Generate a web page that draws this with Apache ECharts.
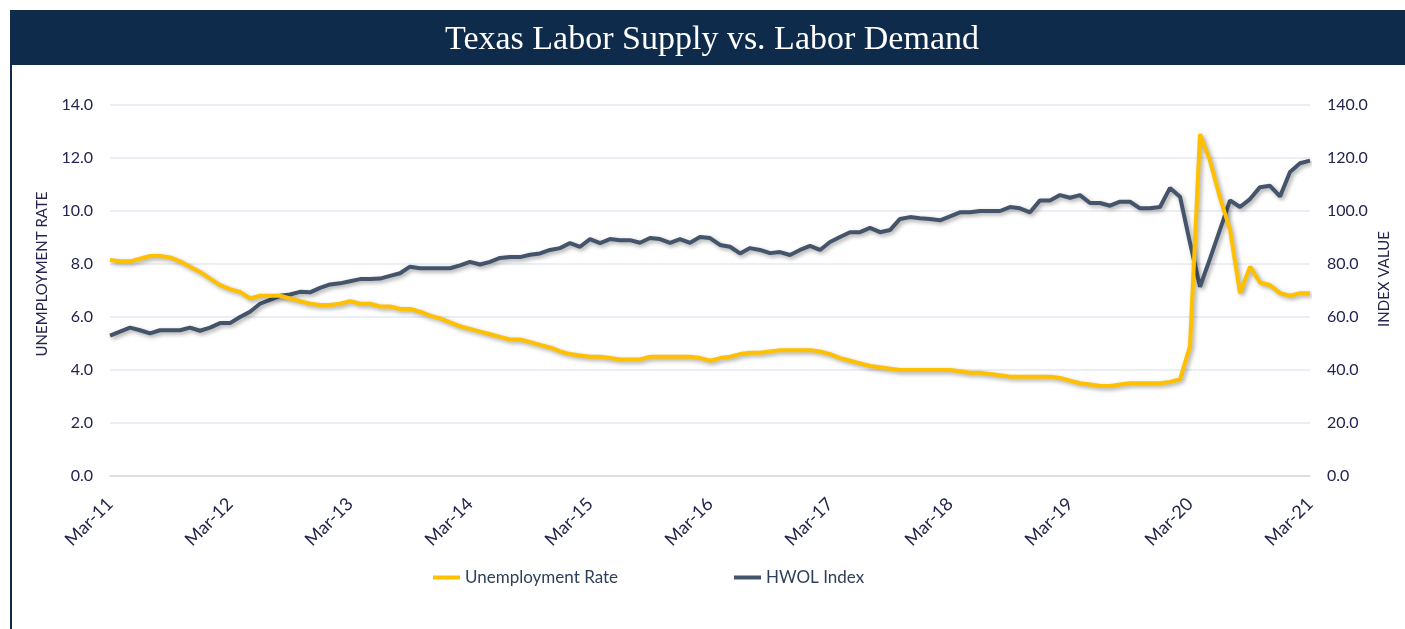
<!DOCTYPE html>
<html>
<head>
<meta charset="utf-8">
<title>Texas Labor Supply vs. Labor Demand</title>
<script src="https://cdn.jsdelivr.net/npm/echarts@6/dist/echarts.min.js"></script>
<style>
  html, body { margin: 0; padding: 0; background: #fff; }
  #main { width: 1405px; height: 629px; }
</style>
</head>
<body>
<div id="main"></div>
<script>
'use strict';

/* ===== data ===== */
var monthNames = ['Jan', 'Feb', 'Mar', 'Apr', 'May', 'Jun', 'Jul', 'Aug', 'Sep', 'Oct', 'Nov', 'Dec'];
var years = ['11', '12', '13', '14', '15', '16', '17', '18', '19', '20', '21'];

// Mar-11 .. Mar-21, monthly
var months = [];
for (var y = 0; y < years.length; y++) {
  for (var m = 0; m < 12; m++) {
    if (y === 0 && m < 2) continue;
    if (y === years.length - 1 && m > 2) continue;
    months.push(monthNames[m] + '-' + years[y]);
  }
}

var unemploymentRate = [
  8.15, 8.1, 8.1, 8.2, 8.3, 8.3, 8.25, 8.1, 7.9, 7.7,
  7.45, 7.2, 7.05, 6.95, 6.7, 6.8, 6.8, 6.8, 6.7, 6.6, 6.5, 6.45,
  6.45, 6.5, 6.6, 6.5, 6.5, 6.4, 6.4, 6.3, 6.3, 6.2, 6.05, 5.95,
  5.8, 5.65, 5.55, 5.45, 5.35, 5.25, 5.15, 5.15, 5.05, 4.95, 4.85, 4.7,
  4.6, 4.55, 4.5, 4.5, 4.45, 4.4, 4.4, 4.4, 4.5, 4.5, 4.5, 4.5,
  4.5, 4.45, 4.35, 4.45, 4.5, 4.6, 4.65, 4.65, 4.7, 4.75, 4.75, 4.75,
  4.75, 4.7, 4.6, 4.45, 4.35, 4.25, 4.15, 4.1, 4.05, 4.0, 4.0, 4.0,
  4.0, 4.0, 4.0, 3.95, 3.9, 3.9, 3.85, 3.8, 3.75, 3.75, 3.75, 3.75,
  3.75, 3.7, 3.6, 3.5, 3.45, 3.4, 3.4, 3.45, 3.5, 3.5, 3.5, 3.5,
  3.55, 3.65, 4.9, 12.9, 11.9, 10.5, 9.3, 6.9, 7.9, 7.3, 7.2, 6.9,
  6.8, 6.9, 6.9
];

var hwolIndex = [
  53, 54.5, 56, 55, 53.8, 55, 55, 55, 56, 54.8,
  56, 57.7, 57.7, 60, 62, 65, 66.5, 68, 68.5, 69.5, 69.3, 71,
  72.3, 72.7, 73.5, 74.3, 74.3, 74.5, 75.5, 76.5, 79, 78.4, 78.4, 78.4,
  78.4, 79.5, 80.8, 79.8, 80.8, 82.3, 82.6, 82.6, 83.5, 84, 85.3, 86,
  87.9, 86.5, 89.4, 87.9, 89.4, 89, 89, 88, 89.8, 89.4, 88, 89.4,
  88, 90.2, 89.8, 87.2, 86.5, 84, 86, 85.3, 84.1, 84.5, 83.4, 85.3,
  86.8, 85.3, 88.3, 90.2, 92, 92, 93.6, 92, 92.8, 97, 97.7, 97.3,
  97, 96.5, 98, 99.5, 99.5, 100, 100, 100, 101.5, 101, 99.5, 104,
  104, 106, 105, 106, 103, 103, 102, 103.5, 103.5, 101, 101, 101.5,
  108.7, 105.4, 88, 71.4, 82, 93, 104, 101.5, 104.5, 109, 109.5, 105.5,
  114.7, 118, 119
];

var seriesNames = ['Unemployment Rate', 'HWOL Index'];
var axisNames = ['UNEMPLOYMENT RATE', 'INDEX VALUE'];
var leftTicks = { min: 0, max: 14, interval: 2 };
var rightTicks = { min: 0, max: 140, interval: 20 };

/* ===== chart ===== */
var labelColor = '#23244f';
var uiFont = 'Lato, "Open Sans", sans-serif';
var myChart = echarts.init(document.getElementById('main'));

var lineShadow = {
  shadowColor: 'rgba(0,0,0,0.35)',
  shadowBlur: 4,
  shadowOffsetX: 2,
  shadowOffsetY: 2
};

// axis titles sit a little above the plot's middle, so they are drawn by hand
function axisTitle(text, x, y) {
  return {
    type: 'text',
    x: x,
    y: y,
    rotation: Math.PI / 2,
    style: {
      text: text,
      fill: labelColor,
      font: '15px ' + uiFont,
      textAlign: 'center',
      textVerticalAlign: 'middle'
    }
  };
}

var option = {
  backgroundColor: '#ffffff',
  animation: false,
  graphic: [
    {
      type: 'rect',
      shape: { x: 10, y: 10, width: 1395, height: 55 },
      style: { fill: '#0f2b4b' }
    },
    {
      type: 'rect',
      shape: { x: 10, y: 65, width: 2, height: 564 },
      style: { fill: '#0f2b4b' }
    },
    {
      type: 'text',
      x: 712,
      y: 40,
      style: {
        text: 'Texas Labor Supply vs. Labor Demand',
        fill: '#ffffff',
        font: '34px "Liberation Serif", "DejaVu Serif", serif',
        textAlign: 'center',
        textVerticalAlign: 'middle'
      }
    },
    axisTitle(axisNames[0], 42, 274),
    axisTitle(axisNames[1], 1384, 279)
  ],
  grid: {
    left: 110,
    right: 95,
    top: 105,
    bottom: 153,
    containLabel: false
  },
  legend: {
    bottom: 38,
    left: 428,
    itemWidth: 27,
    itemHeight: 4,
    itemGap: 116,
    icon: 'rect',
    textStyle: {
      color: '#2e3f5c',
      fontSize: 17,
      fontFamily: uiFont
    },
    data: seriesNames
  },
  xAxis: {
    type: 'category',
    data: months,
    boundaryGap: false,
    axisLine: { show: true, lineStyle: { color: '#d9d9d9', width: 1.5 } },
    axisTick: { show: false },
    splitLine: { show: false },
    axisLabel: {
      interval: function (i) { return i % 12 === 0; },
      rotate: 45,
      margin: 25,
      color: labelColor,
      fontSize: 18,
      fontFamily: uiFont
    }
  },
  yAxis: [
    {
      type: 'value',
      min: leftTicks.min,
      max: leftTicks.max,
      interval: leftTicks.interval,
      axisLine: { show: false },
      axisTick: { show: false },
      splitLine: { lineStyle: { color: '#e4e9f1', width: 1.5 } },
      axisLabel: {
        margin: 17,
        color: labelColor,
        fontSize: 16,
        fontFamily: uiFont,
        formatter: function (v) { return v.toFixed(1); }
      }
    },
    {
      type: 'value',
      min: rightTicks.min,
      max: rightTicks.max,
      interval: rightTicks.interval,
      axisLine: { show: false },
      axisTick: { show: false },
      splitLine: { show: false },
      axisLabel: {
        margin: 17,
        color: labelColor,
        fontSize: 16,
        fontFamily: uiFont,
        formatter: function (v) { return v.toFixed(1); }
      }
    }
  ],
  series: [
    {
      name: seriesNames[0],
      type: 'line',
      yAxisIndex: 0,
      data: unemploymentRate,
      symbol: 'none',
      z: 3,
      itemStyle: { color: '#ffc000' },
      lineStyle: Object.assign({ color: '#ffc000', width: 4 }, lineShadow)
    },
    {
      name: seriesNames[1],
      type: 'line',
      yAxisIndex: 1,
      data: hwolIndex,
      symbol: 'none',
      z: 2,
      itemStyle: { color: '#44546a' },
      lineStyle: Object.assign({ color: '#44546a', width: 4 }, lineShadow)
    }
  ]
};

myChart.setOption(option);
</script>
</body>
</html>
